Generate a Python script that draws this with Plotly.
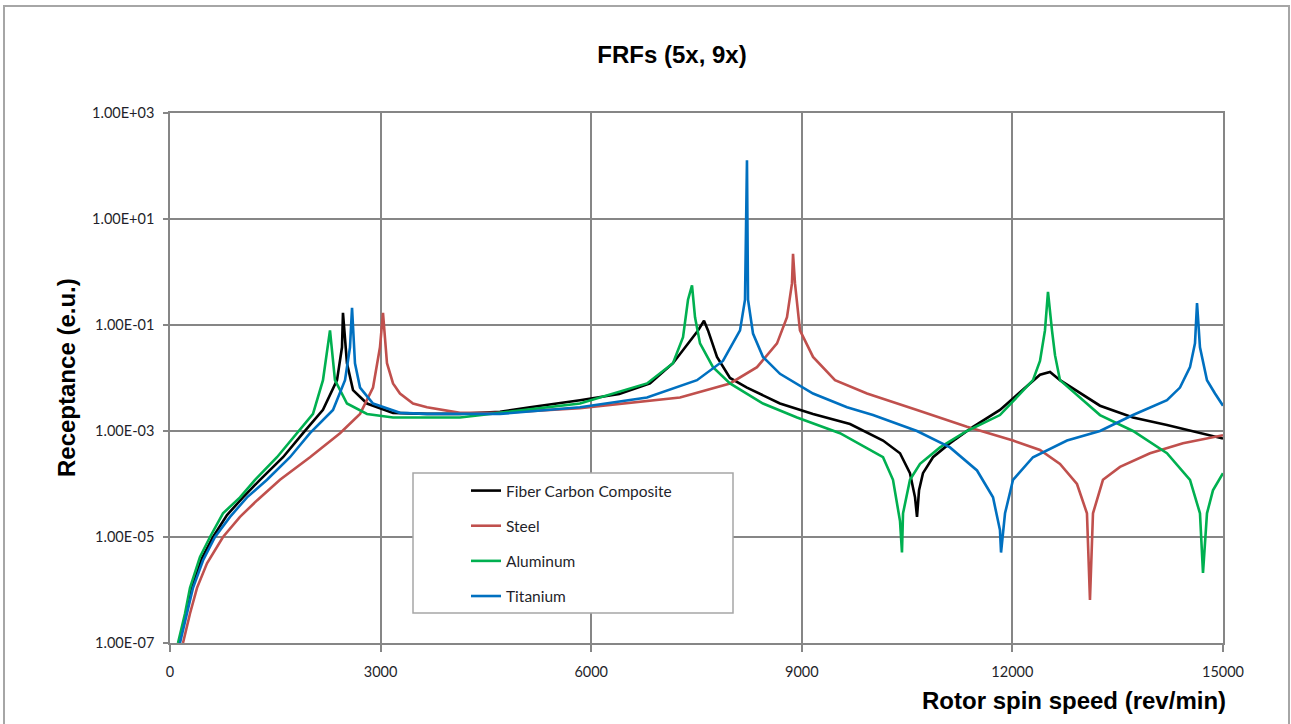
import plotly.graph_objects as go

# ---------------- data ----------------
series_names = ["Fiber Carbon Composite", "Steel", "Aluminum", "Titanium"]
series_colors = ["#000000", "#C0504D", "#00B050", "#0070C0"]

carbon_rpm = [128, 228, 313, 456, 613, 812, 1040, 1282, 1610, 1895, 2179, 2379, 2450, 2464, 2521,
              2607, 2806, 3177, 3661, 4131, 4701, 5128, 5840, 6400, 6838, 7165, 7379, 7522, 7607, 7664, 7792,
              7977, 8219, 8689, 9160, 9687, 10157, 10399, 10541, 10613, 10641, 10670, 10726, 10869, 11111,
              11439, 11823, 12293, 12393, 12536, 12678, 13248, 13718, 14202, 14672, 15000]
carbon_rec = [1e-7, 3.6e-7, 1.1e-6, 4.0e-6, 1.0e-5, 2.6e-5, 5.6e-5, 1.2e-4, 3.2e-4, 9.1e-4, 2.5e-3, 9.1e-3,
              3.8e-2, 0.17, 1.9e-2, 5.9e-3, 3.3e-3, 2.2e-3, 2.1e-3, 2.1e-3, 2.3e-3, 2.8e-3, 3.8e-3, 5.0e-3, 7.9e-3,
              1.9e-2, 4.5e-2, 7.9e-2, 0.12, 7.9e-2, 2.5e-2, 1.0e-2, 6.6e-3, 3.3e-3, 2.1e-3, 1.35e-3, 6.6e-4,
              3.8e-4, 1.6e-4, 5.6e-5, 2.4e-5, 7.6e-5, 1.6e-4, 3.2e-4, 5.9e-4, 1.2e-3, 2.5e-3, 9.1e-3, 1.15e-2,
              1.3e-2, 9.1e-3, 3.0e-3, 1.8e-3, 1.3e-3, 9.1e-4, 7.2e-4]

steel_rpm = [185, 285, 385, 527, 755, 997, 1239, 1567, 1994, 2422, 2707, 2892, 2991, 3034, 3091, 3177,
             3276, 3462, 3661, 3889, 4131, 4701, 5840, 7265, 7977, 8362, 8647, 8789, 8860, 8875, 8903, 8974,
             9160, 9473, 9929, 10641, 11353, 12009, 12393, 12678, 12920, 13062, 13105, 13148, 13290, 13533,
             13960, 14430, 15000]
steel_rec = [1e-7, 3.6e-7, 1.1e-6, 3.2e-6, 1e-5, 2.4e-5, 4.9e-5, 1.2e-4, 3.2e-4, 9.1e-4, 2.1e-3, 6.6e-3,
             3.8e-2, 0.17, 1.9e-2, 7.9e-3, 5.1e-3, 3.3e-3, 2.8e-3, 2.5e-3, 2.2e-3, 2.2e-3, 2.7e-3, 4.3e-3,
             7.9e-3, 1.6e-2, 4.5e-2, 0.14, 0.61, 2.2, 0.61, 7.9e-2, 2.5e-2, 9.1e-3, 5.1e-3, 2.5e-3, 1.2e-3,
             6.6e-4, 4.4e-4, 2.4e-4, 1.0e-4, 2.8e-5, 6.5e-7, 2.8e-5, 1.2e-4, 2.1e-4, 3.8e-4, 5.9e-4, 8.3e-4]

aluminum_rpm = [114, 214, 285, 427, 570, 755, 997, 1211, 1524, 1809, 2037, 2179, 2251, 2279, 2350, 2521,
                2806, 3177, 4131, 4701, 5840, 6795, 7165, 7308, 7379, 7436, 7479, 7550, 7735, 7977, 8447,
                8932, 9544, 10157, 10299, 10399, 10427, 10442, 10541, 10684, 10969, 11353, 11823, 12293,
                12393, 12464, 12507, 12564, 12607, 12678, 13248, 13718, 14202, 14530, 14672, 14715, 14772,
                14857, 15000]
aluminum_rec = [1e-7, 3.6e-7, 1.1e-6, 4.2e-6, 1e-5, 2.8e-5, 5.6e-5, 1.2e-4, 3.2e-4, 9.1e-4, 2.1e-3, 9.1e-3,
                3.8e-2, 7.9e-2, 9.1e-3, 3.3e-3, 2.1e-3, 1.8e-3, 1.8e-3, 2.2e-3, 3.3e-3, 7.9e-3, 1.9e-2,
                5.9e-2, 0.30, 0.56, 0.14, 4.5e-2, 1.6e-2, 7.9e-3, 3.3e-3, 1.8e-3, 9.1e-4, 3.2e-4, 1.2e-4,
                2.0e-5, 5.1e-6, 2.8e-5, 1.2e-4, 2.4e-4, 4.9e-4, 1.0e-3, 2.0e-3, 9.1e-3, 2.1e-2, 7.9e-2,
                0.42, 7.9e-2, 2.7e-2, 9.1e-3, 2.0e-3, 1.0e-3, 3.8e-4, 1.2e-4, 2.8e-5, 2.1e-6, 2.8e-5,
                7.6e-5, 1.6e-4]

titanium_rpm = [142, 242, 328, 470, 641, 855, 1097, 1382, 1709, 1994, 2322, 2493, 2564, 2593, 2635, 2707,
                2892, 3276, 3661, 4701, 5840, 6795, 7507, 7877, 8120, 8191, 8219, 8234, 8305, 8447, 8689,
                9160, 9644, 10014, 10641, 11111, 11496, 11724, 11823, 11838, 11895, 12009, 12293, 12778,
                13248, 13718, 14202, 14387, 14530, 14601, 14630, 14672, 14772, 14886, 15000]
titanium_rec = [1e-7, 3.6e-7, 1.1e-6, 3.6e-6, 1e-5, 2.4e-5, 5.6e-5, 1.2e-4, 3.2e-4, 9.1e-4, 2.5e-3, 9.1e-3,
                3.8e-2, 0.21, 1.9e-2, 6.6e-3, 3.3e-3, 2.2e-3, 2.1e-3, 2.1e-3, 2.8e-3, 4.3e-3, 9.1e-3, 2.1e-2,
                7.9e-2, 0.30, 128, 0.30, 6.9e-2, 2.5e-2, 1.2e-2, 5.1e-3, 2.8e-3, 2.0e-3, 1.0e-3, 4.9e-4,
                1.8e-4, 5.6e-5, 1.35e-5, 5.1e-6, 2.8e-5, 1.2e-4, 3.2e-4, 6.6e-4, 1.0e-3, 2.0e-3, 3.8e-3,
                6.6e-3, 1.6e-2, 4.5e-2, 0.26, 3.8e-2, 9.1e-3, 5.1e-3, 3.0e-3]

x_ticks = [0, 3000, 6000, 9000, 12000, 15000]
x_tick_text = ["0", "3000", "6000", "9000", "12000", "15000"]
y_ticks = [1e-7, 1e-5, 1e-3, 1e-1, 1e1, 1e3]
y_tick_text = ["1.00E-07", "1.00E-05", "1.00E-03", "1.00E-01", "1.00E+01", "1.00E+03"]

title_text = "FRFs (5x, 9x)"
x_title = "Rotor spin speed (rev/min)"
y_title = "Receptance (e.u.)"

# ---------------- figure ----------------
W, H = 1291, 724
L, R, T, B = 170, 68, 113, 81
pw, ph = W - L - R, H - T - B


def px(xp):
    return (xp - L) / pw


def py(yp):
    return (H - B - yp) / ph


GRID = "#868686"
TXT = "#1f1f2a"
TICKFONT = dict(family="Lato, Open Sans", size=14.5, color=TXT)

fig = go.Figure()
all_x = [carbon_rpm, steel_rpm, aluminum_rpm, titanium_rpm]
all_y = [carbon_rec, steel_rec, aluminum_rec, titanium_rec]
for name, color, xs, ys in zip(series_names, series_colors, all_x, all_y):
    fig.add_trace(go.Scatter(x=xs, y=ys, mode="lines", name=name,
                             line=dict(color=color, width=2.6),
                             legendgroup=name))

fig.update_layout(
    width=W, height=H,
    margin=dict(l=L, r=R, t=T, b=B),
    paper_bgcolor="white", plot_bgcolor="white",
    title=dict(text="<b>" + title_text + "</b>", x=px(672), xref="paper", xanchor="center",
               y=1 - 55 / H, yref="container", yanchor="middle",
               font=dict(family="Liberation Sans, Arial", size=24, color="#000000")),
    showlegend=True,
    legend=dict(x=px(466), y=py(474), xanchor="left", yanchor="top",
                bgcolor="rgba(0,0,0,0)", borderwidth=0,
                font=dict(family="Lato, Open Sans", size=15.5, color=TXT),
                tracegroupgap=12, itemwidth=30),
    font=dict(family="Lato, Open Sans", size=14.5, color=TXT),
)

fig.update_xaxes(range=[0, 15000], tickvals=x_ticks, ticktext=x_tick_text,
                 showgrid=True, gridcolor=GRID, gridwidth=1.5,
                 showline=True, linecolor=GRID, linewidth=1.5, mirror=True,
                 ticks="outside", ticklen=7, tickcolor=GRID, tickwidth=1.5,
                 ticklabelstandoff=8, zeroline=False, tickfont=TICKFONT)
fig.update_yaxes(type="log", range=[-7, 3], tickvals=y_ticks, ticktext=y_tick_text,
                 showgrid=True, gridcolor=GRID, gridwidth=1.5,
                 showline=True, linecolor=GRID, linewidth=1.5, mirror=True,
                 ticks="outside", ticklen=5, tickcolor=GRID, tickwidth=1.5,
                 ticklabelstandoff=6, zeroline=False, tickfont=TICKFONT)

# axis titles
fig.add_annotation(text="<b>" + y_title + "</b>", x=px(66), y=0.5, xref="paper", yref="paper",
                   textangle=-90, showarrow=False, xanchor="center", yanchor="middle",
                   font=dict(family="Liberation Sans, Arial", size=24, color="#000000"))
fig.add_annotation(text="<b>" + x_title + "</b>", x=px(1228), y=py(700), xref="paper", yref="paper",
                   showarrow=False, xanchor="right", yanchor="middle",
                   font=dict(family="Liberation Sans, Arial", size=24, color="#000000"))

# legend frame
fig.add_shape(type="rect", xref="paper", yref="paper", x0=px(413), x1=px(733), y0=py(613), y1=py(473),
              line=dict(color="#A6A6A6", width=1.5), fillcolor="white", layer="above")
# outer chart frame
fig.add_shape(type="rect", xref="paper", yref="paper", x0=px(4), x1=px(1289), y0=py(740), y1=py(6),
              line=dict(color="#A6A6A6", width=2), fillcolor="rgba(0,0,0,0)", layer="below")

fig.write_html("out.html", config={"displayModeBar": False},
               post_script="document.body.style.margin='0px';document.body.style.overflow='hidden';")
